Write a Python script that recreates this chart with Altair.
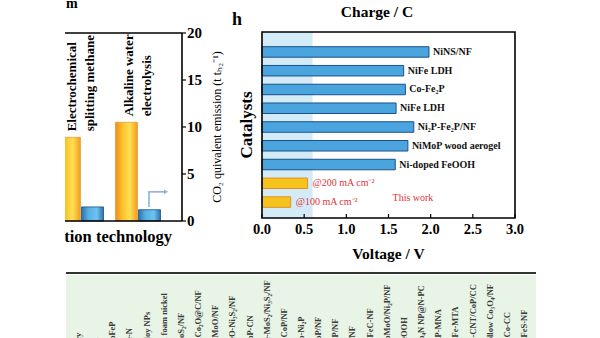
import altair as alt
import pandas as pd

SERIF = "Liberation Serif"

# ---------------- panel h (main) ----------------
catalysts = ["NiNS/NF", "NiFe LDH", "Co-Fe₂P", "NiFe LDH", "Ni₂P-Fe₂P/NF",
             "NiMoP wood aerogel", "Ni-doped FeOOH", "@200 mA cm⁻²", "@100 mA cm⁻²"]
voltages = [1.98, 1.68, 1.70, 1.59, 1.80, 1.73, 1.58, 0.54, 0.34]
sources = ["reported"] * 7 + ["this work"] * 2
rows = list(range(1, 10))
voltage_ticks = [0.0, 0.5, 1.0, 1.5, 2.0, 2.5, 3.0]

# ---------------- partial left panel ----------------
techs = ["Electrochemical splitting methane", "Alkaline water electrolysis"]
tech_line1 = ["Electrochemical", "Alkaline water"]
tech_line2 = ["splitting methane", "electrolysis"]
emission_conventional = [8.9, 10.5]
emission_new = [1.5, 1.2]
emission_ticks = [0, 5, 10, 15, 20]

# ---------------- partial bottom strip ----------------
strip_labels = ["Fey", "Ni", "CoFeP", "Fe-N", "alloy NPs", "Ni foam nickel", "MoS₂/NF",
                "NiCo₂O@C/NF", "NiMoO/NF", "FeO-Ni₃S₂/NF", "CoP-CN", "Fe-MoS₂/Ni₃S₂/NF",
                "NiCoP/NF", "Co-Ni₂P", "CoP/NF", "NiP/NF", "C/NF", "NiFeC-NF",
                "CoMoO/Ni₂P/NF", "FeOOH", "Co₄N NP@N-PC", "NiP-MNA", "NiFe-MTA",
                "Ni-CNT/CoP/CC", "hollow Co₃O₄/NF", "NiCo-CC", "NiFeS-NF"]

df_main = pd.DataFrame({"row": rows, "catalyst": catalysts, "voltage": voltages, "source": sources})
df_vt = pd.DataFrame({"v": voltage_ticks})
df_left = pd.DataFrame({"tech": techs + techs,
                        "series": ["conventional"] * 2 + ["this work"] * 2,
                        "emission": emission_conventional + emission_new})
df_t1 = pd.DataFrame({"tech": techs, "line": tech_line1, "emission": emission_conventional})
df_t2 = pd.DataFrame({"tech": techs, "line": tech_line2, "emission": emission_conventional})
df_et = pd.DataFrame({"e": emission_ticks})
df_strip = pd.DataFrame({"slot": list(range(len(strip_labels))), "label": strip_labels})
one = pd.DataFrame({"k": [0]})


def txt(chart_data, **kw):
    base = dict(font=SERIF, color="black")
    base.update(kw)
    return alt.Chart(chart_data).mark_text(**base)


# ================= left panel =================
xs_left = alt.Scale(type="band", domain=techs, range=[52.5, 166.5], paddingInner=0, paddingOuter=0)
xo_left = alt.Scale(domain=["conventional", "this work"], paddingInner=0.045, paddingOuter=0.26)
ys_left = alt.Scale(domain=[0, 20], range=[221, 33], nice=False)

orange_grad = alt.LinearGradient(gradient="linear", x1=0, x2=1, y1=0, y2=0, stops=[
    alt.GradientStop(offset=0, color="#ef8d1c"),
    alt.GradientStop(offset=0.35, color="#fbc52e"),
    alt.GradientStop(offset=0.65, color="#fde052"),
    alt.GradientStop(offset=1, color="#f29a22")])
blue_grad = alt.LinearGradient(gradient="linear", x1=0, x2=1, y1=0, y2=0, stops=[
    alt.GradientStop(offset=0, color="#2d6fa8"),
    alt.GradientStop(offset=0.3, color="#55aee3"),
    alt.GradientStop(offset=0.7, color="#6ec3ef"),
    alt.GradientStop(offset=1, color="#2d6fa8")])

base_left = alt.Chart(df_left).encode(
    x=alt.X("tech:N", scale=xs_left, axis=None),
    xOffset=alt.XOffset("series:N", scale=xo_left),
    y=alt.Y("emission:Q", scale=ys_left, axis=None),
)
bars_orange = base_left.transform_filter(alt.datum.series == "conventional").mark_bar(
    fill=orange_grad, stroke="#e58b1e", strokeWidth=0.6)
bars_blue = base_left.transform_filter(alt.datum.series == "this work").mark_bar(
    fill=blue_grad, stroke="#1f4f82", strokeWidth=0.8)


# rotated 270 deg: dx moves along the text (up), dy moves across it (right)
def tech_text(df, across):
    return txt(df, angle=270, align="left", baseline="middle", dx=6, dy=across,
               fontSize=13, fontWeight="bold").encode(
        x=alt.X("tech:N", scale=xs_left, axis=None),
        y=alt.Y("emission:Q", scale=ys_left, axis=None),
        text="line:N",
    )


t1 = tech_text(df_t1, -9)
t2 = tech_text(df_t2, 9)

top_line = alt.Chart(one).mark_rule(color="black", strokeWidth=1.6).encode(
    x=alt.value(65), x2=alt.value(182), y=alt.YDatum(20, scale=ys_left, axis=None))
bottom_line = alt.Chart(one).mark_rule(color="black", strokeWidth=1.6).encode(
    x=alt.value(65), x2=alt.value(182), y=alt.YDatum(0, scale=ys_left, axis=None))
# right-hand emission axis (domain, ticks, labels, title)
ax_domain = alt.Chart(one).mark_rule(color="black", strokeWidth=1.6).encode(
    x=alt.value(182), y=alt.YDatum(0, scale=ys_left, axis=None), y2=alt.Y2Datum(20))
ax_ticks = alt.Chart(df_et).mark_rule(color="black", strokeWidth=1.2).encode(
    x=alt.value(182), x2=alt.value(186), y=alt.Y("e:Q", scale=ys_left, axis=None))
ax_labels = txt(df_et, align="left", baseline="middle", fontSize=15, fontWeight="bold").encode(
    x=alt.value(187), y=alt.Y("e:Q", scale=ys_left, axis=None), text="e:Q")
ax_title = txt(one, text="CO₂ quivalent emission (t tₕ₂⁻¹)", angle=270, align="center",
               baseline="middle", fontSize=12).encode(x=alt.value(217), y=alt.value(127))

arrow_v = alt.Chart(one).mark_rule(color="#8db3d6", strokeWidth=1.6).encode(
    x=alt.value(149), y=alt.YDatum(1.5, scale=ys_left, axis=None), y2=alt.Y2Datum(3.1))
arrow_h = alt.Chart(one).mark_rule(color="#8db3d6", strokeWidth=1.6).encode(
    x=alt.value(148.2), x2=alt.value(165), y=alt.YDatum(3.1, scale=ys_left, axis=None))
arrow_head = alt.Chart(one).mark_point(shape="triangle-right", filled=True, size=22,
                                       color="#8db3d6", opacity=1).encode(
    x=alt.value(166), y=alt.YDatum(3.1, scale=ys_left, axis=None))
left_xtitle = txt(one, text="Hydrogen production technology", align="right", baseline="middle",
                  fontSize=16.5, fontWeight="bold").encode(x=alt.value(172), y=alt.value(237))

left_panel = alt.layer(bars_orange, bars_blue, t1, t2, top_line, bottom_line,
                       ax_domain, ax_ticks, ax_labels, ax_title,
                       arrow_v, arrow_h, arrow_head, left_xtitle)

mask = alt.Chart(one).mark_rect(fill="white").encode(
    x=alt.value(0), x2=alt.value(65), y=alt.value(0), y2=alt.value(338))

# ================= main panel =================
xs_main = alt.Scale(domain=[0, 3], range=[262, 515], nice=False)
ys_main = alt.Scale(domain=rows, range=[36, 218], paddingInner=0.44, paddingOuter=0.57)
fill_scale = alt.Scale(domain=["reported", "this work"], range=["#4aa5de", "#f6c21c"])
stroke_scale = alt.Scale(domain=["reported", "this work"], range=["#1d4f8c", "#e0902a"])

shade = alt.Chart(one).mark_rect(fill="#d3ebf7").encode(
    x=alt.XDatum(0, scale=xs_main, axis=None), x2=alt.X2Datum(0.6),
    y=alt.value(32), y2=alt.value(218))
bars_main = alt.Chart(df_main).mark_bar(strokeWidth=1).encode(
    x=alt.X("voltage:Q", scale=xs_main, axis=None),
    y=alt.Y("row:O", scale=ys_main, axis=None),
    fill=alt.Fill("source:N", scale=fill_scale, legend=None),
    stroke=alt.Stroke("source:N", scale=stroke_scale, legend=None),
)
labels_ref = txt(df_main, align="left", baseline="middle", dx=4, fontSize=10, fontWeight="bold",
                 color="#111111").transform_filter(alt.datum.source == "reported").encode(
    x=alt.X("voltage:Q", scale=xs_main, axis=None),
    y=alt.Y("row:O", scale=ys_main, axis=None),
    text="catalyst:N")
labels_tw = txt(df_main, align="left", baseline="middle", dx=5, fontSize=10,
                color="#e0323c").transform_filter(alt.datum.source == "this work").encode(
    x=alt.X("voltage:Q", scale=xs_main, axis=None),
    y=alt.Y("row:O", scale=ys_main, axis=None),
    text="catalyst:N")
note = txt(one, text="This work", align="center", baseline="middle", fontSize=10,
           color="#e0323c").encode(x=alt.XDatum(1.79, scale=xs_main, axis=None), y=alt.value(198))
frame = alt.Chart(one).mark_rect(filled=False, stroke="black", strokeWidth=1.6).encode(
    x=alt.XDatum(0, scale=xs_main, axis=None), x2=alt.X2Datum(3),
    y=alt.value(32), y2=alt.value(218))
x_ticks = alt.Chart(df_vt).mark_rule(color="black", strokeWidth=1.2).encode(
    x=alt.X("v:Q", scale=xs_main, axis=None), y=alt.value(214), y2=alt.value(218))
x_labels = txt(df_vt, align="center", baseline="middle", fontSize=14.5, fontWeight="bold").encode(
    x=alt.X("v:Q", scale=xs_main, axis=None), y=alt.value(230),
    text=alt.Text("v:Q", format=".1f"))
x_title = txt(one, text="Voltage / V", align="center", baseline="middle", fontSize=15.5,
              fontWeight="bold").encode(x=alt.XDatum(1.5, scale=xs_main, axis=None), y=alt.value(254))
y_title = txt(one, text="Catalysts", angle=270, align="center", baseline="middle", fontSize=17,
              fontWeight="bold").encode(x=alt.value(247), y=alt.value(125))

main_panel = alt.layer(shade, bars_main, labels_ref, labels_tw, note, frame,
                       x_ticks, x_labels, x_title, y_title)

# ================= bottom strip =================
strip_bg = alt.Chart(one).mark_rect(fill="#e8f4e6").encode(
    x=alt.value(66), x2=alt.value(536), y=alt.value(275), y2=alt.value(338))
strip_line = alt.Chart(one).mark_rule(color="#333333", strokeWidth=2).encode(
    x=alt.value(66), x2=alt.value(536), y=alt.value(273))
strip_text = txt(df_strip, angle=270, align="left", baseline="middle", fontSize=8.5,
                 fontWeight="bold", color="#3a3a3a").encode(
    x=alt.X("slot:O", scale=alt.Scale(type="point", range=[78, 524], padding=0), axis=None),
    y=alt.value(346),
    text="label:N")
strip = alt.layer(strip_bg, strip_line, strip_text)

# ================= loose texts =================
tops = alt.layer(
    txt(one, text="h", align="left", baseline="middle", fontSize=18, fontWeight="bold").encode(
        x=alt.value(232), y=alt.value(20)),
    txt(one, text="Charge / C", align="center", baseline="middle", fontSize=15.5,
        fontWeight="bold").encode(x=alt.value(377), y=alt.value(12)),
    txt(one, text="m", align="left", baseline="alphabetic", fontSize=14, fontWeight="bold").encode(
        x=alt.value(66), y=alt.value(8)),
)

chart = alt.layer(left_panel, mask, main_panel, strip, tops).resolve_scale(
    x="independent", y="independent"
).properties(
    width=600, height=338, padding=0, background="white",
    autosize=alt.AutoSizeParams(type="none"),
).configure_view(stroke=None)

chart.save("out.html", embed_options={"renderer": "svg", "actions": False})
